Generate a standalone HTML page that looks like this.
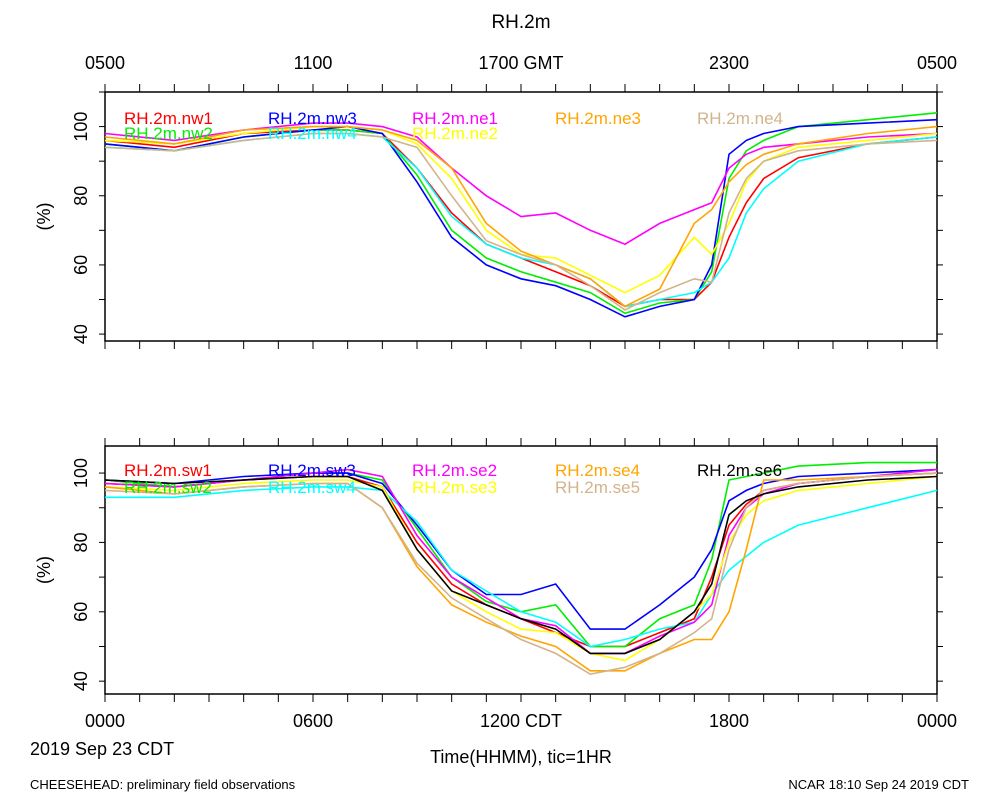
<!DOCTYPE html>
<html><head><meta charset="utf-8"><style>
body{margin:0;background:#fff;}
svg{display:block;font-family:"Liberation Sans",sans-serif;}
</style></head><body>
<svg id="chart" width="1000" height="800" viewBox="0 0 1000 800">
<text x="521" y="28" font-size="19" text-anchor="middle">RH.2m</text>
<g id="top-axis-labels"></g>
<g id="panel1"></g>
<g id="panel2"></g>
<g id="bottom-axis-labels"></g>
<text x="30" y="755" font-size="18">2019 Sep 23 CDT</text>
<text x="521" y="763" font-size="18" text-anchor="middle">Time(HHMM), tic=1HR</text>
<text x="30" y="789" font-size="13">CHEESEHEAD: preliminary field observations</text>
<text x="969" y="789" font-size="13" text-anchor="end">NCAR 18:10 Sep 24 2019 CDT</text>
</svg>
<script>
const hours=[0,2,4,6,7,8,9,10,11,12,13,14,15,16,17,17.5,18,18.5,19,20,22,24];
const yTicks=[40,60,80,100];
const gmtLabels=["0500","1100","1700 GMT","2300","0500"];
const cdtLabels=["0000","0600","1200 CDT","1800","0000"];
const p1Names=["RH.2m.nw1","RH.2m.nw2","RH.2m.nw3","RH.2m.nw4","RH.2m.ne1","RH.2m.ne2","RH.2m.ne3","RH.2m.ne4"];
const p1Colors=["#ff0000","#00ee00","#0000ff","#00ffff","#ff00ff","#ffff00","#ffa500","#d2b48c"];
const nw1=[96,94,98,99,99,98,88,75,66,62,58,54,48,50,50,55,68,78,85,91,95,97];
const nw2=[95,93,97,99,99,98,86,70,62,58,55,52,46,49,50,58,85,93,96,100,102,104];
const nw3=[95,93,97,99,100,98,84,68,60,56,54,50,45,48,50,60,92,96,98,100,101,102];
const nw4=[94,93,96,98,98,97,88,74,66,62,60,56,48,50,52,55,62,75,82,90,95,97];
const ne1=[98,96,99,101,101,100,97,88,80,74,75,70,66,72,76,78,88,92,94,95,97,98];
const ne2=[96,95,98,100,100,99,95,85,70,63,62,57,52,57,68,63,72,84,90,94,96,98];
const ne3=[97,95,99,100,100,99,96,88,72,64,60,56,48,53,72,76,84,89,92,95,98,100];
const ne4=[94,93,96,98,98,97,94,80,67,63,60,54,47,52,56,55,75,85,90,93,95,96];
const p2Names=["RH.2m.sw1","RH.2m.sw2","RH.2m.sw3","RH.2m.sw4","RH.2m.se2","RH.2m.se3","RH.2m.se4","RH.2m.se5","RH.2m.se6"];
const p2Colors=["#ff0000","#00ee00","#0000ff","#00ffff","#ff00ff","#ffff00","#ffa500","#d2b48c","#000000"];
const sw1=[97,96,98,99,99,96,80,68,62,58,54,50,50,54,58,70,85,91,95,97,99,100];
const sw2=[98,96,98,100,100,98,84,70,63,60,62,50,50,58,62,75,98,99,100,102,103,103];
const sw3=[98,97,99,100,100,97,85,72,65,65,68,55,55,62,70,78,92,95,97,99,100,101];
const sw4=[93,93,95,96,96,95,86,72,66,60,57,50,52,55,57,65,72,76,80,85,90,95];
const se2=[97,96,98,100,101,99,82,70,64,58,56,48,48,53,57,62,82,90,94,97,99,101];
const se3=[96,95,97,98,98,96,78,66,60,55,54,48,46,52,60,65,80,88,92,95,97,99];
const se4=[96,94,96,97,97,90,73,62,57,53,50,43,43,48,52,52,60,78,98,98,99,100];
const se5=[95,94,96,97,97,90,74,64,58,52,48,42,44,48,54,58,78,90,95,97,99,100];
const se6=[98,97,98,99,99,95,78,66,62,58,55,48,48,52,60,68,88,92,94,96,98,99];

const NS="http://www.w3.org/2000/svg";
const X0=105,X1=937;
function xs(h){return X0+(X1-X0)*h/24;}
function mk(tag,attrs,parent){const e=document.createElementNS(NS,tag);for(const k in attrs)e.setAttribute(k,attrs[k]);parent.appendChild(e);return e;}

function panel(g,top,bot,yMin,yMax,series,colors,names,legendPos){
  const ys=v=>bot-(v-yMin)/(yMax-yMin)*(bot-top);
  const box=mk('rect',{x:X0,y:top,width:X1-X0,height:bot-top,fill:'none',stroke:'#000','stroke-width':1.5},g);
  
  
  for(let h=0;h<=24;h++){
    const t1=mk('line',{x1:xs(h),x2:xs(h),y1:top,y2:top-8,stroke:'#000'},g);
    
    
    const t2=mk('line',{x1:xs(h),x2:xs(h),y1:bot,y2:bot+8,stroke:'#000'},g);
    
    
  }
  for(let v=40;v<=110;v+=10){
    if(v<yMin||v>yMax)continue;
    const t=mk('line',{x1:X0,x2:X0-6,y1:ys(v),y2:ys(v),stroke:'#000'},g);
    
    
    const t3=mk('line',{x1:X1,x2:X1+6,y1:ys(v),y2:ys(v),stroke:'#000'},g);
    
    
  }
  yTicks.forEach(v=>{
    const y=ys(v);
    const l=mk('text',{x:0,y:0,'font-size':18,'text-anchor':'middle',transform:`translate(87,${y}) rotate(-90)`},g);
    l.textContent=v;
    
    
  });
  const yl=mk('text',{x:0,y:0,'font-size':18,'text-anchor':'middle',transform:`translate(50,${(top+bot)/2}) rotate(-90)`},g);
  yl.textContent='(%)';
  
  
  series.forEach((s,i)=>{
    const d=s.map((v,j)=>(j?'L':'M')+xs(hours[j]).toFixed(1)+','+ys(v).toFixed(1)).join('');
    const p=mk('path',{d:d,fill:'none',stroke:colors[i],'stroke-width':1.6},g);
    
    
  });
  names.forEach((n,i)=>{
    const pos=legendPos[i];
    const t=mk('text',{x:pos[0],y:pos[1],'font-size':17,fill:colors[i]},g);
    t.textContent=n;
    
    
  });
}
panel(document.getElementById('panel1'),92,341,38,110,[nw1,nw2,nw3,nw4,ne1,ne2,ne3,ne4],p1Colors,p1Names,
  [[124,124],[124,139],[268,124],[268,139],[412,124],[412,139],[555,124],[697,124]]);
panel(document.getElementById('panel2'),446,694,36.3,107.8,[sw1,sw2,sw3,sw4,se2,se3,se4,se5,se6],p2Colors,p2Names,
  [[124,476],[124,493],[268,476],[268,493],[412,476],[412,493],[555,476],[555,493],[697,476]]);
const ta=document.getElementById('top-axis-labels');
gmtLabels.forEach((s,i)=>{
  const t=mk('text',{x:xs(i*6),y:69,'font-size':18,'text-anchor':'middle'},ta);
  t.textContent=s;
  
  
});
const ba=document.getElementById('bottom-axis-labels');
cdtLabels.forEach((s,i)=>{
  const t=mk('text',{x:xs(i*6),y:727,'font-size':18,'text-anchor':'middle'},ba);
  t.textContent=s;
  
  
});
</script>
</body></html>
